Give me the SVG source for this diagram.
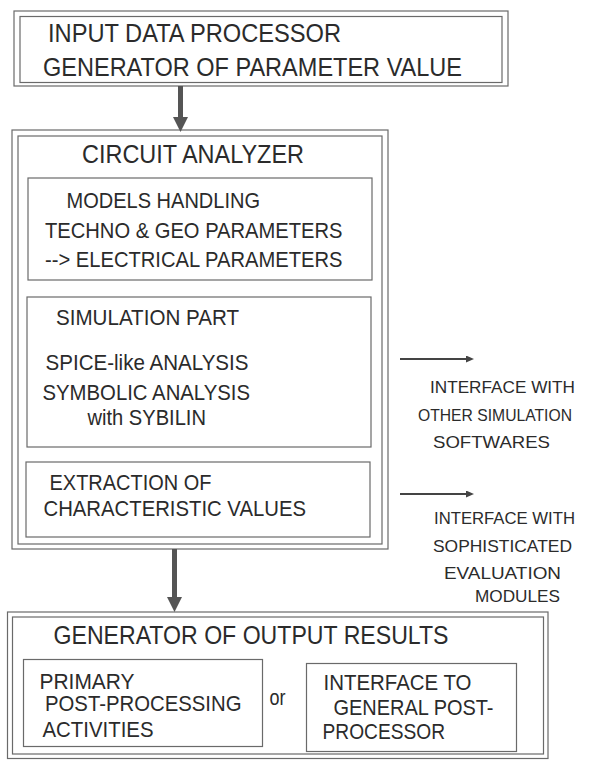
<svg xmlns="http://www.w3.org/2000/svg" width="589" height="764" viewBox="0 0 589 764">
<style>
.frame{fill:none;stroke:#6a6a6a;stroke-width:1.2}
.t{font-family:"Liberation Sans",Arial,sans-serif;fill:#2b2b2b}
.big{font-size:25px}
.mid{font-size:21.5px}
.sm{font-size:17px}
.shaft{stroke:#555;stroke-width:5;fill:none}
.thin{stroke:#444;stroke-width:2;fill:none}
</style>
<defs>
<marker id="bighead" viewBox="0 0 15 15" markerWidth="15" markerHeight="15" refX="0" refY="7.5" orient="auto" markerUnits="userSpaceOnUse">
<path d="M0,0 L15,7.5 L0,15 z" fill="#555"/>
</marker>
<marker id="smallhead" viewBox="0 0 8 7" markerWidth="8" markerHeight="7" refX="0" refY="3.5" orient="auto" markerUnits="userSpaceOnUse">
<path d="M0,0 L8,3.5 L0,7 z" fill="#444"/>
</marker>
</defs>
<rect width="589" height="764" fill="#fff"/>

<g id="input-processor">
<rect class="frame" x="14" y="11" width="494" height="75"/>
<rect class="frame" x="20" y="16.5" width="482" height="66"/>
<text class="t big" x="48" y="42" textLength="293" lengthAdjust="spacingAndGlyphs">INPUT DATA PROCESSOR</text>
<text class="t big" x="43" y="75.5" textLength="419" lengthAdjust="spacingAndGlyphs">GENERATOR OF PARAMETER VALUE</text>
</g>

<g id="circuit-analyzer">
<rect class="frame" x="12" y="130" width="376" height="419"/>
<rect class="frame" x="18" y="136" width="364" height="408"/>
<text class="t big" x="82" y="162.5" textLength="222" lengthAdjust="spacingAndGlyphs">CIRCUIT ANALYZER</text>
</g>

<g id="models-handling">
<rect class="frame" x="28" y="178" width="344" height="102"/>
<text class="t mid" x="66.5" y="208" textLength="193.5" lengthAdjust="spacingAndGlyphs">MODELS HANDLING</text>
<text class="t mid" x="45" y="237.5" textLength="297.5" lengthAdjust="spacingAndGlyphs">TECHNO &amp; GEO PARAMETERS</text>
<text class="t mid" x="45" y="267" textLength="297.5" lengthAdjust="spacingAndGlyphs">--&gt; ELECTRICAL PARAMETERS</text>
</g>

<g id="simulation-part">
<rect class="frame" x="27" y="297" width="344" height="150"/>
<text class="t mid" x="56" y="325" textLength="183" lengthAdjust="spacingAndGlyphs">SIMULATION PART</text>
<text class="t mid" x="45.5" y="370" textLength="203" lengthAdjust="spacingAndGlyphs">SPICE-like ANALYSIS</text>
<text class="t mid" x="42.5" y="400" textLength="207.5" lengthAdjust="spacingAndGlyphs">SYMBOLIC ANALYSIS</text>
<text class="t mid" x="87.5" y="425" textLength="118.5" lengthAdjust="spacingAndGlyphs">with SYBILIN</text>
</g>

<g id="extraction">
<rect class="frame" x="26" y="462" width="344" height="75"/>
<text class="t mid" x="49.5" y="490" textLength="162" lengthAdjust="spacingAndGlyphs">EXTRACTION OF</text>
<text class="t mid" x="43.5" y="516" textLength="262.5" lengthAdjust="spacingAndGlyphs">CHARACTERISTIC VALUES</text>
</g>

<g id="interface-simulation">
<text class="t sm" x="430" y="393" textLength="145" lengthAdjust="spacingAndGlyphs">INTERFACE WITH</text>
<text class="t sm" x="418" y="421" textLength="154" lengthAdjust="spacingAndGlyphs">OTHER SIMULATION</text>
<text class="t sm" x="433" y="448" textLength="117" lengthAdjust="spacingAndGlyphs">SOFTWARES</text>
</g>

<g id="interface-evaluation">
<text class="t sm" x="434" y="523.5" textLength="141" lengthAdjust="spacingAndGlyphs">INTERFACE WITH</text>
<text class="t sm" x="433" y="551.5" textLength="139" lengthAdjust="spacingAndGlyphs">SOPHISTICATED</text>
<text class="t sm" x="444" y="579" textLength="117" lengthAdjust="spacingAndGlyphs">EVALUATION</text>
<text class="t sm" x="475" y="602" textLength="85" lengthAdjust="spacingAndGlyphs">MODULES</text>
</g>

<g id="output-generator">
<rect class="frame" x="7.5" y="612" width="540.5" height="146.5"/>
<rect class="frame" x="12.5" y="617" width="531" height="137"/>
<text class="t big" x="53.5" y="643.5" textLength="395" lengthAdjust="spacingAndGlyphs">GENERATOR OF OUTPUT RESULTS</text>
<text class="t mid" x="269.5" y="705" textLength="16" lengthAdjust="spacingAndGlyphs">or</text>
</g>

<g id="primary-post-processing">
<rect class="frame" x="23.5" y="659.5" width="239" height="87"/>
<text class="t mid" x="39.5" y="688.5" textLength="95" lengthAdjust="spacingAndGlyphs">PRIMARY</text>
<text class="t mid" x="45" y="711" textLength="196.5" lengthAdjust="spacingAndGlyphs">POST-PROCESSING</text>
<text class="t mid" x="42.5" y="736.5" textLength="111" lengthAdjust="spacingAndGlyphs">ACTIVITIES</text>
</g>

<g id="general-post-processor">
<rect class="frame" x="306.5" y="663.5" width="210" height="88"/>
<text class="t mid" x="323.5" y="690" textLength="148" lengthAdjust="spacingAndGlyphs">INTERFACE TO</text>
<text class="t mid" x="333.5" y="715" textLength="160" lengthAdjust="spacingAndGlyphs">GENERAL POST-</text>
<text class="t mid" x="322.5" y="738.5" textLength="122.5" lengthAdjust="spacingAndGlyphs">PROCESSOR</text>
</g>

<g id="connectors">
<line class="shaft" x1="180.5" y1="86" x2="180.5" y2="117" marker-end="url(#bighead)"/>
<line class="shaft" x1="174.5" y1="549" x2="174.5" y2="597" marker-end="url(#bighead)"/>
<line class="thin" x1="400" y1="359" x2="466" y2="359" marker-end="url(#smallhead)"/>
<line class="thin" x1="400" y1="494" x2="466" y2="494" marker-end="url(#smallhead)"/>
</g>
</svg>
